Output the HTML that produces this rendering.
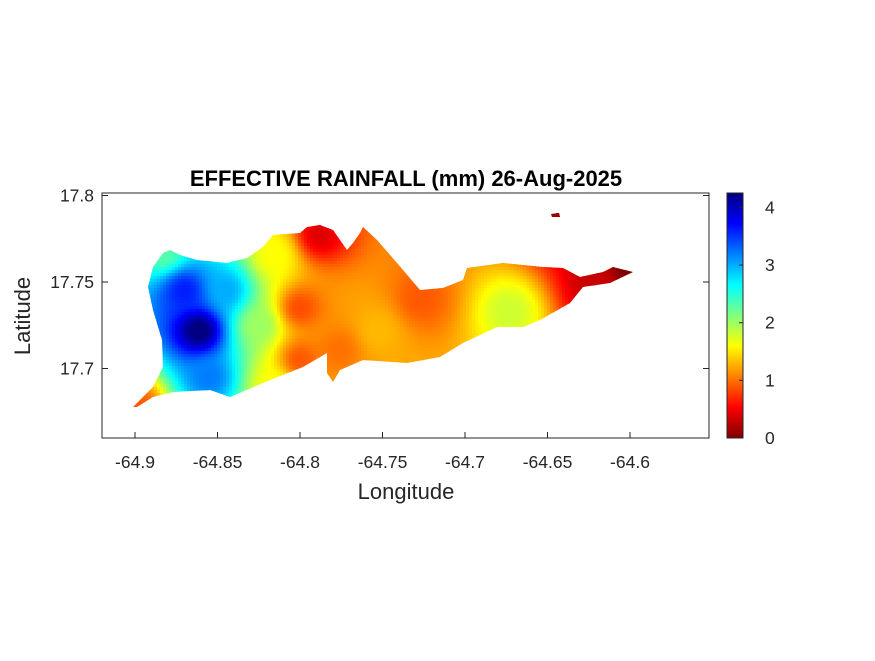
<!DOCTYPE html>
<html><head><meta charset="utf-8"><style>
body{margin:0;background:#fff;font-family:"Liberation Sans",Arial,sans-serif}
svg text{font-family:"Liberation Sans",Arial,sans-serif;fill:#262626}
</style></head><body>
<svg id="chart" width="875" height="656" xmlns="http://www.w3.org/2000/svg">
<rect width="875" height="656" fill="#fff"/>
<defs><clipPath id="island"><path d="M133,407 L153,387 L163,367 L162,340 L153,310 L148,287 L153,267 L163,253 L170,250 L180,255 L197,260 L227,263 L247,258 L263,247 L273,235 L300,233 L307,227 L320,225 L333,230 L347,250 L353,243 L360,233 L363,227 L377,240 L397,263 L420,290 L443,288 L463,280 L467,268 L503,263 L543,267 L563,268 L580,277 L603,272 L613,267 L633,272 L610,283 L583,287 L570,303 L540,320 L523,327 L497,327 L463,343 L440,357 L407,363 L363,360 L340,370 L333,382 L327,373 L327,353 L303,367 L270,380 L230,397 L210,390 L173,392 L153,397 L137,407 Z M551,214 L559,213 L560,217 L552,217 Z"/></clipPath></defs>
<rect x="102" y="193" width="607" height="245" fill="#fff" stroke="#262626" stroke-width="1"/>
<g id="field" clip-path="url(#island)"></g>
<g id="axes"></g>
<text x="406" y="186" text-anchor="middle" font-size="22" font-weight="bold" style="fill:#000">EFFECTIVE RAINFALL (mm) 26-Aug-2025</text>
<text x="406" y="499" text-anchor="middle" font-size="22">Longitude</text>
<text transform="translate(30,316) rotate(-90)" text-anchor="middle" font-size="22">Latitude</text>
<g id="cbar"></g>
</svg>
<script>
const stationLon=[-64.861,-64.883,-64.899,-64.815,-64.815,-64.788,-64.753,-64.673,-64.618,-64.6,-64.727,-64.776,-64.64,-64.845,-64.855,-64.87,-64.8,-64.8,-64.825];
const stationLat=[17.722,17.767,17.679,17.765,17.69,17.777,17.722,17.733,17.748,17.756,17.74,17.711,17.789,17.745,17.695,17.745,17.735,17.705,17.725];
const stationVal=[4.3,2.3,0.9,1.6,1.6,0.4,1.3,1.8,0.3,0.0,0.9,1.0,0.1,3.0,3.2,3.6,0.85,0.9,2.0];
const xTicks=[-64.9,-64.85,-64.8,-64.75,-64.7,-64.65,-64.6];
const xTickLabels=["-64.9","-64.85","-64.8","-64.75","-64.7","-64.65","-64.6"];
const yTicks=[17.8,17.75,17.7];
const yTickLabels=["17.8","17.75","17.7"];
const cTicks=[0,1,2,3,4];
const cMax=4.25;
const NS="http://www.w3.org/2000/svg";
function xs(lon){return 135+(lon+64.9)*1650;}
function ys(lat){return 282-(lat-17.75)*1730;}
function xinv(px){return (px-135)/1650-64.9;}
function yinv(py){return 17.75-(py-282)/1730;}
function jet(v){let t=1-Math.max(0,Math.min(1,v/cMax));
 const f=x=>Math.max(0,Math.min(1,x));
 const r=f(Math.min(4*t-1.5,-4*t+4.5)),g=f(Math.min(4*t-0.5,-4*t+3.5)),b=f(Math.min(4*t+0.5,-4*t+2.5));
 return `rgb(${Math.round(r*255)},${Math.round(g*255)},${Math.round(b*255)})`;}
function el(tag,attrs,parent){const e=document.createElementNS(NS,tag);for(const k in attrs)e.setAttribute(k,attrs[k]);parent.appendChild(e);return e;}
const field=document.getElementById('field');
const step=3;
for(let py=210;py<412;py+=step){for(let px=130;px<640;px+=step){
 const lon=xinv(px+step/2),lat=yinv(py+step/2);let sw=0,sv=0;
 for(let i=0;i<stationVal.length;i++){const dx=(lon-stationLon[i])*1650,dy=(lat-stationLat[i])*1730;const d2=dx*dx+dy*dy+1;const w=1/Math.pow(d2,1.3);sw+=w;sv+=w*stationVal[i];}
 const r=el('rect',{x:px,y:py,width:step+0.5,height:step+0.5,fill:jet(sv/sw)},field);
 
 
}}
const axes=document.getElementById('axes');
xTicks.forEach((t,i)=>{const x=xs(t);
 el('line',{x1:x,x2:x,y1:438,y2:432,stroke:'#262626'},axes);
 const tx=el('text',{x:x,y:468,'text-anchor':'middle','font-size':17.5},axes);tx.textContent=xTickLabels[i];
 
 });
yTicks.forEach((t,i)=>{const y=ys(t);
 el('line',{x1:102,x2:108,y1:y,y2:y,stroke:'#262626'},axes);
 el('line',{x1:709,x2:703,y1:y,y2:y,stroke:'#262626'},axes);
 const tx=el('text',{x:94,y:y+6,'text-anchor':'end','font-size':17.5},axes);tx.textContent=yTickLabels[i];
 
 });
const cb=document.getElementById('cbar');
const cbTop=193,cbBot=438;
function cy(v){return cbBot-(v/cMax)*(cbBot-cbTop);}
for(let y=cbTop;y<cbBot;y++){el('rect',{x:727,y:y,width:16,height:1.2,fill:jet((cbBot-y-0.5)/(cbBot-cbTop)*cMax)},cb);}
el('rect',{x:727,y:cbTop,width:16,height:cbBot-cbTop,fill:'none',stroke:'#262626'},cb);
cTicks.forEach(t=>{const y=cy(t);
 el('line',{x1:739,x2:743,y1:y,y2:y,stroke:'#262626'},cb);
 const tx=el('text',{x:765,y:y+6,'font-size':17.5},cb);tx.textContent=String(t);
 
 });
</script>
</body></html>
